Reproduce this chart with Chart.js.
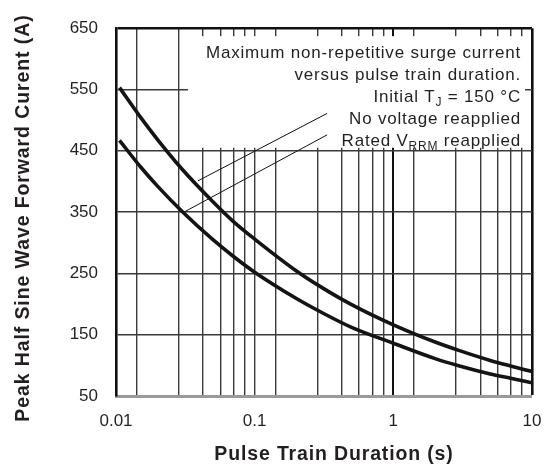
<!DOCTYPE html>
<html><head><meta charset="utf-8">
<script src="https://cdn.jsdelivr.net/npm/chart.js@4.4.1/dist/chart.umd.min.js"></script>
<style>html,body{margin:0;padding:0;background:#fff;}#wrap{width:544px;height:466px;position:relative;}</style>
</head><body><div id="wrap"><canvas id="c"></canvas></div>
<script>
// ---- data ----
const durations = [0.0106, 0.015, 0.02, 0.03, 0.05, 0.07, 0.1, 0.2, 0.3, 0.5, 1, 2, 3, 5, 7, 10];
const noVoltageCurrent = [553, 505, 468, 420, 367, 335, 306, 254, 228, 199, 166, 138, 124, 108, 99, 90];
const ratedVoltageCurrent = [467, 424, 392, 351, 305, 278, 252, 209, 187, 162, 136, 111, 99, 86, 79, 71.5];
const xGridValues = [0.01, 0.01414, 0.02828, 0.04243, 0.05657, 0.07071, 0.08485,
                     0.1, 0.1414, 0.2828, 0.4243, 0.5657, 0.7071, 0.8485,
                     1, 1.414, 2.828, 4.243, 5.657, 7.071, 8.485, 10];
const xLabelValues = [0.01, 0.1, 1, 10];
const xLabelTexts = ['0.01', '0.1', '1', '10'];
const yMin = 50, yMax = 650, yStep = 100;
const noteLines = [
  [{t: 'Maximum non-repetitive surge current'}],
  [{t: 'versus pulse train duration.'}],
  [{t: 'Initial T'}, {t: 'J', sub: true}, {t: ' = 150 \u00B0C'}],
  [{t: 'No voltage reapplied'}],
  [{t: 'Rated V'}, {t: 'RRM', sub: true}, {t: ' reapplied'}]
];

const FONT = '"Liberation Sans", Arial, Helvetica, sans-serif';
const TXT = '#231f20';
const GRID = '#3a3a3a';

// draw a scale's title with letter spacing and a small shift
function spacedTitle(s, spacing, dx, dy) {
  if (s._spacedTitle) return;
  s._spacedTitle = true;
  const orig = s.drawTitle;
  s.drawTitle = function () {
    const ctx = this.ctx;
    ctx.save();
    if ('letterSpacing' in ctx) ctx.letterSpacing = spacing;
    ctx.translate(dx, dy);
    orig.apply(this, arguments);
    ctx.restore();
  };
}

const notePlugin = {
  id: 'note',
  beforeDatasetsDraw(chart) {
    const {ctx, scales: {x, y}} = chart;
    const l = x.getPixelForValue(0.033), r = x.getPixelForValue(8.9);
    const t = y.getPixelForValue(637), b = y.getPixelForValue(455);
    ctx.save();
    ctx.fillStyle = '#fff';
    ctx.fillRect(l, t, r - l, b - t);
    ctx.restore();
  },
  afterDatasetsDraw(chart) {
    const {ctx, chartArea, scales: {x, y}} = chart;
    ctx.save();
    ctx.strokeStyle = '#111';
    ctx.lineWidth = 1;
    ctx.beginPath();
    ctx.moveTo(x.getPixelForValue(0.039), y.getPixelForValue(401));
    ctx.lineTo(x.getPixelForValue(0.333), y.getPixelForValue(511));
    ctx.moveTo(x.getPixelForValue(0.0315), y.getPixelForValue(351));
    ctx.lineTo(x.getPixelForValue(0.333), y.getPixelForValue(476));
    ctx.stroke();
    const right = chartArea.right - 11;
    const main = '17px ' + FONT, sub = '12px ' + FONT;
    ctx.fillStyle = TXT;
    ctx.textBaseline = 'alphabetic';
    ctx.textAlign = 'left';
    if ('letterSpacing' in ctx) ctx.letterSpacing = '0.8px';
    noteLines.forEach((segs, i) => {
      const base = chartArea.top + 30 + i * 22;
      let w = 0;
      segs.forEach(s => { ctx.font = s.sub ? sub : main; w += ctx.measureText(s.t).width; });
      let cx = right - w;
      segs.forEach(s => {
        ctx.font = s.sub ? sub : main;
        ctx.fillText(s.t, cx, s.sub ? base + 4 : base);
        cx += ctx.measureText(s.t).width;
      });
    });
    ctx.restore();
  }
};

const lineStyle = {showLine: true, borderColor: '#141414', borderWidth: 3.6, pointRadius: 0,
  cubicInterpolationMode: 'monotone', fill: false};

new Chart(document.getElementById('c'), {
  type: 'scatter',
  data: {
    datasets: [
      Object.assign({label: 'No voltage reapplied',
        data: durations.map((d, i) => ({x: d, y: noVoltageCurrent[i]}))}, lineStyle),
      Object.assign({label: 'Rated VRRM reapplied',
        data: durations.map((d, i) => ({x: d, y: ratedVoltageCurrent[i]}))}, lineStyle)
    ]
  },
  options: {
    responsive: true, maintainAspectRatio: false, animation: false,
    layout: {padding: {top: 25, right: 12, left: 0, bottom: 0}},
    plugins: {legend: {display: false}, tooltip: {enabled: false}},
    scales: {
      x: {
        type: 'logarithmic', min: 0.01, max: 10,
        afterFit(s) { s.height = 70; s.paddingLeft = 0; s.paddingRight = 0; spacedTitle(s, '0.85px', 10, 0); },
        afterBuildTicks(s) { s.ticks = xGridValues.map(v => ({value: v})); },
        ticks: {autoSkip: false, maxRotation: 0, minRotation: 0, padding: 15, color: TXT,
          font: {family: FONT, size: 17},
          callback(v) { const i = xLabelValues.indexOf(v); return i >= 0 ? xLabelTexts[i] : ''; }},
        grid: {drawTicks: false,
          color(c) { const v = c.tick && c.tick.value; return (v === 10 || v === 1) ? '#111' : GRID; },
          lineWidth(c) { const v = c.tick && c.tick.value; return v === 10 ? 2.6 : (v === 1 ? 2 : (v === 0.01 ? 0 : 1.4)); }},
        border: {color: '#9a9a9a', width: 3},
        title: {display: true, text: 'Pulse Train Duration (s)', color: TXT,
          font: {family: FONT, size: 19.5, weight: 'bold'}, padding: {top: 0, bottom: 0}}
      },
      y: {
        min: yMin, max: yMax,
        afterFit(s) { s.width = 116; spacedTitle(s, '0.9px', 0, 6); },
        ticks: {stepSize: yStep, padding: 18, color: TXT, font: {family: FONT, size: 17}},
        grid: {drawTicks: false,
          color(c) { const v = c.tick && c.tick.value; return v === 650 ? '#111' : (v === 50 ? 'rgba(0,0,0,0)' : GRID); },
          lineWidth(c) { const v = c.tick && c.tick.value; return v === 650 ? 2.6 : 1.4; }},
        border: {color: '#111', width: 2.6},
        title: {display: true, text: 'Peak Half Sine Wave Forward Curent (A)', color: TXT,
          font: {family: FONT, size: 19.5, weight: 'bold'}, padding: {top: 12, bottom: 0}}
      }
    }
  },
  plugins: [notePlugin]
});
</script></body></html>
